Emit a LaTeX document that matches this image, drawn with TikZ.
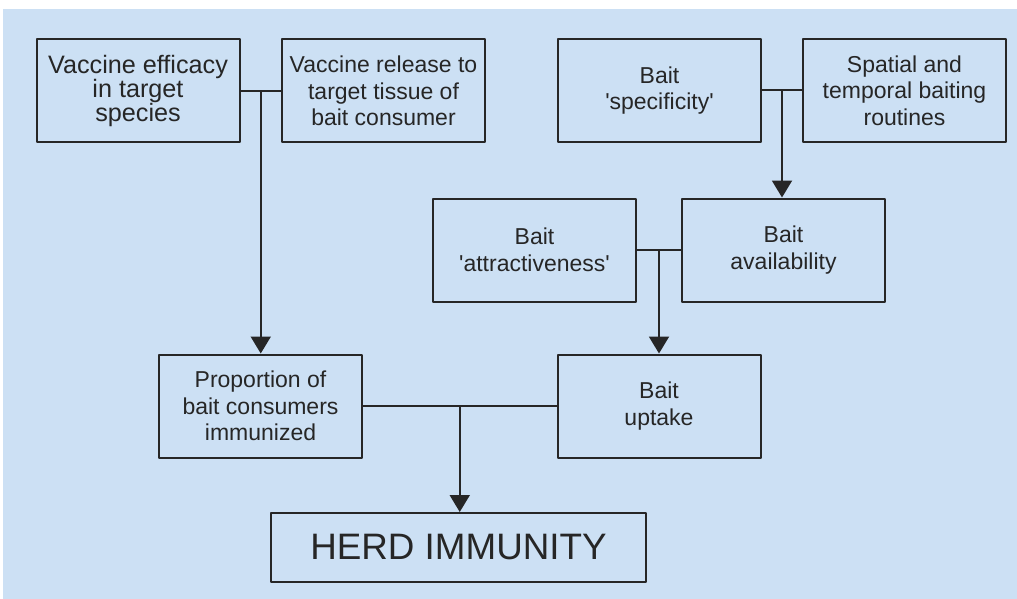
\documentclass[tikz,border=0pt]{standalone}
\usepackage{fontspec}
\setmainfont{Liberation Sans}
\usetikzlibrary{arrows.meta,calc}
\definecolor{paper}{RGB}{204,224,244}
\definecolor{ink}{RGB}{38,38,38}
\newcommand{\q}{\textquotesingle}
\begin{document}
\begin{tikzpicture}[x=0.5pt, y=-0.5pt, line join=round, >={Triangle[width=10pt,length=8.5pt]},
		box/.style={draw=ink, line width=1pt, minimum width=101.5pt, minimum height=51.5pt, inner sep=0pt, align=center, text=ink, font=\fontsize{11.5}{13.3}\selectfont},
		link/.style={draw=ink, line width=1pt}]
		\useasboundingbox (0,0) rectangle (1017,599);
		\fill[paper] (3,9) rectangle (1017,599);
		% top row
		\node[box, font=\fontsize{12.6}{11.8}\selectfont] (eff) at (138,91) {Vaccine efficacy\\in target\\species};
		\node[box] (rel) at (383.5,91) {Vaccine release to\\target tissue of\\bait consumer};
		\node[box] (spec) at (659.5,90.5) {Bait\\\q specificity\q};
		\node[box] (rout) at (904.5,90.5) {Spatial and\\temporal baiting\\routines};
		% middle rows
		\node[box] (attr) at (534.5,250) {Bait\\\q attractiveness\q};
		\node[box] (avail) at (783.5,250) {Bait\\availability};
		\node[box] (prop) at (260.5,406) {Proportion of\\bait consumers\\immunized};
		\node[box] (upt) at (659,406) {Bait\\uptake};
		\node[box, minimum width=187.5pt, minimum height=34.5pt, font=\fontsize{18.4}{20}\selectfont] (herd) at (458.5,547.5) {HERD IMMUNITY};
		\foreach \a/\b/\c in {eff/rel/prop, spec/rout/avail, attr/avail/upt, prop/upt/herd}{
			\draw[link] (\a.east) -- (\b.west);
			\path ($(\a.east)!.5!(\b.west)$) coordinate (j);
			\draw[link,->] (j) -- (j |- \c.north);
		}
\end{tikzpicture}
\end{document}
